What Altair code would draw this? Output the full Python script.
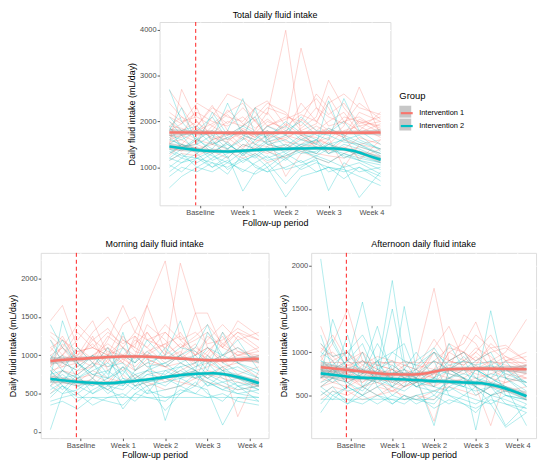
import altair as alt
import pandas as pd

# ---------------- data ----------------
DAYS = [1, 3, 5.5, 8, 10.5, 13, 15, 17, 20, 22.5, 25, 27, 29.5, 32, 35.5]
SMOOTH_DAYS = [1, 4, 7, 10, 13, 16, 19, 22, 25, 28, 31, 34, 35.5]
GROUPS = ["Intervention 1", "Intervention 2"]
COLORS = ["#F8766D", "#00BFC4"]
BAND_KEYS = ["Intervention 1 ", "Intervention 2 "]
X_TICKS = [6, 13, 20, 27, 34]
X_LABELS = ["Baseline", "Week 1", "Week 2", "Week 3", "Week 4"]
X_MINOR = [2.5, 9.5, 16.5, 23.5, 30.5]
X_DOMAIN = [-0.6, 37.1]
BASELINE_DAY = [5.3]

TOTAL_I1 = [
    [2680, 2300, 1800, 1950, 2200, 2400, 2000, 1700, 1600, 1850, 2100, 2900, 2300, 1900, 2000],
    [1500, 2700, 2000, 1600, 1700, 1900, 2300, 2150, 3990, 1700, 1500, 1800, 1650, 2000, 1750],
    [1700, 1650, 1900, 2350, 1800, 1600, 1750, 2000, 1850, 3600, 2300, 1900, 2000, 2100, 1800],
    [1400, 1500, 1300, 1600, 1750, 1450, 1550, 1700, 800, 1300, 1600, 1500, 1400, 1650, 1500],
    [2000, 1800, 1600, 2100, 2600, 2450, 2200, 1900, 2100, 2000, 2600, 2300, 1700, 2200, 2000],
    [1600, 1700, 2300, 1500, 1400, 1700, 1600, 1550, 1650, 1800, 1400, 1600, 1900, 2750, 1700],
    [1900, 1850, 1700, 1750, 2000, 1900, 2100, 2400, 2200, 1800, 1950, 2550, 2000, 1800, 2200],
    [1300, 1450, 1500, 1350, 1200, 1500, 1400, 1300, 1500, 1350, 1200, 1100, 1300, 1450, 1300],
    [2200, 2000, 2100, 1900, 1700, 1800, 1650, 1900, 2050, 2200, 2500, 2150, 2400, 1950, 2100],
    [1550, 1600, 1400, 1500, 1800, 1650, 1500, 1450, 1700, 1600, 1550, 1650, 1000, 1500, 1600],
    [1800, 1950, 2200, 2000, 1900, 2100, 1850, 2050, 1800, 1700, 1900, 1750, 2100, 2000, 1900],
    [1150, 1300, 1250, 1400, 1350, 1200, 1300, 1100, 1250, 1400, 1300, 1250, 1200, 1350, 1250],
    [2400, 2100, 1900, 2300, 2100, 2000, 2300, 2450, 1900, 2150, 2000, 2400, 2600, 2300, 2150],
    [1700, 1500, 1850, 1650, 1550, 1850, 1700, 1800, 1550, 1500, 1750, 1850, 1700, 1150, 1600],
    [1900, 2100, 1750, 1800, 2250, 1950, 1800, 2200, 1700, 2050, 1800, 2000, 2200, 1750, 1950],
    [1650, 1800, 2000, 1700, 1600, 1750, 2050, 1600, 1950, 1700, 1650, 1500, 1800, 1900, 1650],
    [2100, 1950, 2400, 2200, 1950, 2300, 2000, 2300, 2150, 1900, 2300, 2100, 1950, 2400, 2050],
    [1450, 1350, 1600, 1500, 1650, 1400, 1750, 1500, 1400, 1650, 1450, 1350, 1600, 1500, 1400],
    [1850, 1700, 1550, 1900, 2150, 1800, 1650, 1900, 1750, 2400, 2000, 1800, 1650, 2050, 1850],
    [1250, 1500, 1400, 1300, 1550, 1250, 1450, 1350, 1200, 1450, 1550, 1300, 1450, 1200, 1400],
]
TOTAL_I2 = [
    [2700, 2000, 1600, 1400, 1800, 2500, 1700, 1500, 1600, 1400, 1300, 1500, 1600, 1450, 1300],
    [550, 800, 1000, 900, 1100, 950, 850, 1000, 350, 800, 900, 1000, 950, 800, 600],
    [1800, 2300, 1500, 2200, 1700, 1900, 2100, 1600, 1800, 2000, 1700, 1600, 2500, 1800, 1500],
    [1200, 1100, 1300, 1000, 1250, 480, 900, 1100, 640, 1000, 1200, 490, 1100, 900, 1000],
    [1600, 1500, 1350, 1550, 1400, 1600, 2300, 1500, 1400, 1600, 1500, 1400, 1300, 1200, 1100],
    [1000, 1200, 1100, 1300, 950, 1150, 1250, 1000, 1300, 1100, 1250, 1150, 1000, 340, 900],
    [2100, 1800, 1900, 1600, 2400, 1700, 1600, 1900, 1700, 2100, 1800, 1750, 2000, 1600, 1400],
    [1400, 1250, 1200, 1350, 1500, 1300, 1400, 1200, 1350, 1500, 1450, 1300, 1400, 1250, 1100],
    [800, 1000, 900, 1100, 1000, 1200, 1050, 900, 1000, 1150, 900, 1000, 900, 1000, 800],
    [1700, 1600, 1800, 1500, 1650, 1800, 1500, 1700, 1900, 1600, 1750, 1700, 1550, 1500, 1300],
    [1300, 1500, 1400, 1250, 1100, 1350, 1200, 1400, 1500, 1300, 1350, 1500, 1400, 1300, 1200],
    [1900, 1400, 1600, 1800, 1500, 1300, 1600, 1800, 1450, 1700, 1500, 2450, 1600, 1700, 1350],
    [1150, 1300, 1000, 1200, 1400, 1100, 1300, 1150, 1250, 1400, 1200, 1100, 1300, 1150, 950],
    [1500, 1700, 1300, 1600, 1200, 1500, 1400, 1600, 1300, 1500, 1600, 1300, 1500, 1400, 1200],
    [1200, 1400, 1650, 1300, 1550, 1250, 1500, 1350, 1150, 1450, 1300, 1550, 1200, 1350, 1150],
    [1650, 1450, 1500, 1700, 1400, 1650, 1350, 1550, 1700, 1450, 1600, 1400, 1650, 1500, 1250],
    [900, 1100, 1200, 1000, 1150, 900, 1100, 1250, 950, 1050, 1150, 900, 1000, 1100, 850],
    [2000, 1700, 1800, 2100, 1600, 1900, 1750, 1650, 2000, 1750, 1600, 1850, 1700, 1550, 1400],
    [1350, 1200, 1450, 1150, 1300, 1400, 1250, 1450, 1200, 1350, 1250, 1400, 1250, 1150, 1050],
    [1050, 900, 1200, 1100, 850, 1300, 1000, 900, 1200, 950, 1100, 1000, 750, 1000, 700],
]
MORNING_I1 = [
    [1450, 1650, 1100, 900, 1200, 1650, 1300, 1650, 2230, 1200, 1000, 1100, 900, 1000, 950],
    [900, 1000, 1200, 1450, 1000, 1100, 950, 1300, 1000, 2200, 1550, 1550, 1100, 1300, 1100],
    [800, 850, 900, 700, 950, 800, 1000, 850, 700, 800, 900, 1000, 850, 200, 800],
    [1100, 1200, 1000, 1300, 1500, 1200, 1100, 1000, 1300, 1100, 1200, 1300, 1100, 1450, 1250],
    [700, 800, 750, 900, 850, 1000, 800, 900, 850, 750, 800, 700, 850, 900, 700],
    [1200, 1000, 1300, 1100, 1000, 1400, 1500, 1200, 1100, 1300, 1000, 1200, 1400, 1200, 1300],
    [950, 1100, 850, 1000, 1100, 950, 1200, 1100, 900, 1000, 1150, 900, 1000, 1100, 950],
    [600, 700, 650, 800, 700, 650, 750, 600, 700, 650, 600, 750, 700, 650, 600],
    [1000, 900, 1100, 950, 1250, 1100, 1000, 1400, 1200, 950, 1100, 1000, 1300, 1050, 1000],
    [850, 1000, 900, 1250, 800, 950, 850, 1000, 950, 1050, 850, 900, 800, 950, 900],
    [1300, 1200, 1050, 1100, 1300, 1150, 1250, 1100, 1400, 1200, 1300, 1150, 1200, 1350, 1200],
    [500, 650, 600, 700, 550, 750, 600, 650, 550, 600, 700, 650, 600, 550, 600],
    [1000, 1100, 950, 1200, 1050, 1000, 1150, 1300, 1000, 1150, 1000, 1250, 1100, 1000, 1050],
    [750, 900, 800, 850, 1000, 900, 800, 950, 850, 900, 800, 850, 950, 750, 850],
    [1100, 950, 1000, 1150, 900, 1250, 1050, 1000, 1150, 1250, 1050, 950, 1150, 1000, 1100],
    [850, 1150, 950, 850, 1100, 900, 1250, 950, 850, 1000, 1550, 1100, 900, 1050, 950],
    [1250, 1100, 1400, 1200, 1350, 1100, 1300, 1200, 1300, 1100, 1250, 1400, 1150, 1300, 1200],
    [650, 800, 700, 750, 650, 850, 700, 800, 650, 750, 700, 800, 750, 700, 650],
    [950, 850, 1050, 1100, 1000, 1200, 1100, 1650, 1050, 950, 1000, 1100, 950, 1250, 1050],
    [1050, 1250, 900, 1000, 1150, 1000, 900, 1050, 1150, 1000, 900, 1050, 1250, 900, 1000],
]
MORNING_I2 = [
    [30, 500, 700, 600, 800, 650, 700, 500, 800, 700, 600, 900, 700, 600, 500],
    [700, 1450, 900, 700, 1000, 600, 800, 1000, 150, 700, 800, 600, 750, 700, 650],
    [800, 600, 450, 450, 450, 450, 450, 450, 450, 450, 450, 450, 450, 450, 450],
    [1000, 800, 1100, 900, 700, 1300, 800, 900, 1000, 1450, 900, 1100, 1000, 1200, 800],
    [500, 600, 400, 550, 650, 300, 500, 600, 280, 500, 650, 500, 400, 600, 400],
    [900, 1000, 700, 800, 900, 750, 1000, 850, 900, 1000, 1100, 1400, 900, 800, 700],
    [600, 500, 550, 700, 500, 650, 550, 700, 600, 750, 800, 700, 600, 500, 550],
    [1200, 900, 800, 1000, 850, 900, 700, 800, 1100, 900, 1000, 800, 1300, 900, 800],
    [400, 450, 500, 350, 450, 500, 400, 550, 450, 500, 600, 550, 90, 450, 400],
    [750, 800, 650, 600, 700, 800, 650, 750, 800, 850, 700, 1000, 800, 750, 650],
    [1400, 1100, 900, 750, 800, 1000, 900, 1200, 950, 1100, 1050, 900, 1000, 1100, 900],
    [550, 650, 600, 500, 600, 550, 700, 600, 650, 700, 750, 600, 650, 700, 550],
    [850, 700, 750, 900, 600, 850, 750, 800, 900, 750, 850, 950, 800, 850, 700],
    [650, 750, 600, 650, 550, 700, 600, 650, 700, 800, 700, 750, 650, 550, 600],
    [800, 650, 900, 750, 700, 850, 600, 750, 700, 850, 900, 750, 850, 700, 600],
    [450, 600, 500, 650, 550, 450, 600, 500, 550, 600, 500, 650, 550, 500, 450],
    [950, 1200, 850, 1000, 750, 1100, 900, 1050, 850, 1000, 800, 1300, 1000, 900, 750],
    [700, 550, 750, 500, 650, 600, 750, 650, 700, 600, 750, 650, 550, 650, 550],
    [600, 800, 700, 850, 1100, 700, 650, 800, 750, 900, 800, 700, 800, 600, 650],
    [350, 400, 300, 450, 400, 350, 500, 450, 400, 550, 500, 450, 500, 400, 350],
]
AFTERNOON_I1 = [
    [900, 1100, 1500, 900, 800, 700, 850, 900, 1740, 900, 1000, 800, 900, 850, 800],
    [880, 880, 880, 880, 880, 880, 880, 880, 880, 880, 880, 880, 880, 880, 880],
    [700, 800, 750, 600, 700, 650, 600, 700, 1050, 1300, 900, 1000, 1200, 900, 1000],
    [1000, 1200, 900, 1000, 850, 900, 800, 750, 700, 1000, 1100, 1350, 900, 1000, 1380],
    [600, 700, 650, 500, 600, 550, 650, 700, 600, 800, 700, 600, 150, 700, 650],
    [800, 900, 700, 850, 750, 800, 700, 650, 800, 1100, 1000, 900, 1050, 1080, 900],
    [500, 600, 550, 450, 500, 600, 450, 500, 450, 650, 700, 600, 500, 550, 600],
    [1100, 900, 1000, 800, 900, 850, 750, 800, 900, 800, 1200, 1100, 800, 700, 850],
    [700, 650, 600, 700, 650, 600, 700, 650, 1000, 750, 700, 800, 650, 750, 700],
    [950, 1000, 850, 900, 800, 750, 850, 800, 700, 1000, 900, 850, 1100, 950, 850],
    [650, 750, 700, 650, 800, 700, 650, 750, 600, 700, 800, 750, 700, 650, 750],
    [850, 800, 900, 750, 850, 800, 750, 700, 200, 800, 900, 1050, 950, 800, 850],
    [1300, 950, 800, 1000, 700, 800, 900, 850, 800, 900, 850, 950, 800, 900, 800],
    [750, 700, 800, 650, 750, 700, 600, 650, 750, 850, 800, 700, 750, 800, 700],
    [800, 850, 750, 900, 850, 800, 700, 750, 1000, 900, 850, 1000, 850, 950, 800],
    [950, 750, 850, 800, 700, 750, 800, 700, 900, 1050, 1000, 1200, 1050, 900, 950],
    [600, 650, 700, 600, 650, 550, 600, 650, 750, 700, 650, 700, 600, 650, 700],
    [1050, 950, 1000, 850, 950, 900, 850, 800, 1150, 900, 1000, 900, 1000, 1050, 900],
    [700, 800, 650, 750, 700, 650, 700, 600, 650, 800, 750, 850, 700, 800, 750],
    [450, 550, 500, 600, 500, 550, 500, 450, 550, 600, 550, 500, 600, 550, 500],
]
AFTERNOON_I2 = [
    [2080, 1100, 800, 700, 900, 600, 800, 700, 500, 700, 600, 800, 700, 600, 500],
    [700, 1380, 900, 1580, 800, 1830, 900, 700, 150, 800, 700, 600, 500, 150, 400],
    [455, 455, 455, 455, 455, 455, 455, 455, 450, 600, 700, 500, 600, 400, 350],
    [900, 800, 700, 1000, 600, 700, 1530, 800, 600, 1100, 800, 600, 1480, 700, 500],
    [600, 500, 600, 500, 700, 500, 600, 700, 900, 500, 400, 300, 500, 600, 150],
    [800, 700, 1200, 600, 800, 900, 700, 600, 700, 800, 700, 100, 900, 500, 450],
    [1000, 900, 600, 800, 1300, 700, 600, 900, 1050, 800, 900, 700, 600, 800, 600],
    [500, 600, 400, 500, 600, 400, 500, 450, 400, 600, 500, 450, 400, 130, 300],
    [750, 650, 800, 700, 650, 750, 800, 600, 700, 650, 600, 800, 700, 600, 500],
    [1200, 800, 900, 1100, 700, 1500, 800, 1000, 700, 900, 1000, 800, 700, 900, 600],
    [650, 700, 550, 600, 700, 600, 550, 650, 600, 550, 650, 600, 500, 550, 450],
    [300, 500, 400, 600, 500, 400, 500, 400, 500, 400, 500, 600, 400, 500, 400],
    [900, 850, 1000, 750, 1100, 800, 700, 800, 1000, 700, 800, 900, 1000, 700, 650],
    [550, 450, 600, 500, 400, 500, 450, 500, 550, 500, 450, 400, 500, 450, 350],
    [850, 750, 900, 800, 700, 850, 750, 650, 800, 750, 700, 650, 750, 700, 550],
    [600, 700, 650, 550, 750, 600, 700, 600, 550, 650, 600, 550, 600, 500, 450],
    [1100, 950, 1000, 1200, 900, 1000, 900, 850, 1000, 850, 900, 850, 900, 800, 650],
    [400, 550, 450, 400, 500, 450, 400, 500, 350, 450, 400, 350, 450, 400, 300],
    [700, 800, 650, 750, 900, 650, 750, 700, 650, 700, 750, 700, 650, 600, 500],
    [950, 1150, 800, 900, 750, 1000, 1100, 750, 900, 800, 950, 800, 850, 750, 650],
]

# smoothed (loess) curves and half-widths of their grey bands
TOTAL_SMOOTH_I1 = [1760, 1758, 1755, 1752, 1750, 1750, 1752, 1755, 1755, 1755, 1755, 1757, 1758]
TOTAL_SMOOTH_I2 = [1455, 1400, 1360, 1345, 1360, 1385, 1400, 1410, 1415, 1410, 1360, 1230, 1165]
TOTAL_BAND_I1 = [80, 55, 45, 40, 38, 38, 38, 38, 38, 40, 45, 55, 75]
TOTAL_BAND_I2 = [80, 55, 45, 40, 38, 38, 38, 38, 38, 40, 45, 55, 75]
MORNING_SMOOTH_I1 = [925, 945, 960, 975, 985, 985, 975, 960, 945, 935, 940, 950, 955]
MORNING_SMOOTH_I2 = [690, 665, 645, 635, 650, 675, 705, 735, 760, 765, 735, 675, 635]
MORNING_BAND_I1 = [50, 35, 28, 25, 23, 23, 23, 23, 23, 25, 28, 35, 50]
MORNING_BAND_I2 = [50, 35, 28, 25, 23, 23, 23, 23, 23, 25, 28, 35, 50]
AFTERNOON_SMOOTH_I1 = [825, 805, 785, 760, 745, 742, 760, 800, 808, 810, 808, 804, 802]
AFTERNOON_SMOOTH_I2 = [755, 730, 708, 698, 690, 680, 668, 660, 650, 640, 600, 530, 490]
AFTERNOON_BAND_I1 = [55, 38, 30, 27, 25, 25, 25, 25, 25, 27, 30, 38, 55]
AFTERNOON_BAND_I2 = [55, 38, 30, 27, 25, 25, 25, 25, 25, 27, 30, 38, 55]

PANELS = {
    "total": dict(title="Total daily fluid intake", domain=[170, 4170],
                  major=[1000, 2000, 3000, 4000], minor=[500, 1500, 2500, 3500],
                  lines=[TOTAL_I1, TOTAL_I2], smooth=[TOTAL_SMOOTH_I1, TOTAL_SMOOTH_I2],
                  band=[TOTAL_BAND_I1, TOTAL_BAND_I2]),
    "morning": dict(title="Morning daily fluid intake", domain=[-80, 2335],
                    major=[0, 500, 1000, 1500, 2000], minor=[250, 750, 1250, 1750, 2250],
                    lines=[MORNING_I1, MORNING_I2], smooth=[MORNING_SMOOTH_I1, MORNING_SMOOTH_I2],
                    band=[MORNING_BAND_I1, MORNING_BAND_I2]),
    "afternoon": dict(title="Afternoon daily fluid intake", domain=[5, 2150],
                      major=[500, 1000, 1500, 2000], minor=[250, 750, 1250, 1750],
                      lines=[AFTERNOON_I1, AFTERNOON_I2],
                      smooth=[AFTERNOON_SMOOTH_I1, AFTERNOON_SMOOTH_I2],
                      band=[AFTERNOON_BAND_I1, AFTERNOON_BAND_I2]),
}

FONT = "Liberation Sans"
LABEL_SIZE = 7.5
TITLE_SIZE = 9


def x_axis():
    test = "indexof(%s, datum.value) >= 0" % str(X_TICKS)
    expr = "".join("datum.value == %s ? '%s' : " % (v, l) for v, l in zip(X_TICKS, X_LABELS)) + "''"
    return alt.Axis(values=sorted(X_TICKS + X_MINOR), labelExpr=expr, title="Follow-up period",
                    grid=True, gridColor="white",
                    gridWidth={"condition": {"test": test, "value": 1.1}, "value": 0.55},
                    tickOpacity={"condition": {"test": test, "value": 1}, "value": 0},
                    tickColor="#333333", tickSize=2.5, tickWidth=0.8, labelPadding=1,
                    labelFlush=False, labelOverlap=False, domain=False,
                    labelColor="#4D4D4D", labelFontSize=LABEL_SIZE, labelFont=FONT,
                    titleFont=FONT, titleFontSize=TITLE_SIZE, titleFontWeight="normal",
                    titleColor="black", titlePadding=2)


def y_axis(p):
    test = "indexof(%s, datum.value) >= 0" % str(p["major"])
    return alt.Axis(values=sorted(p["major"] + p["minor"]), format="d",
                    labelExpr="%s ? datum.label : ''" % test,
                    title="Daily fluid intake (mL/day)",
                    grid=True, gridColor="white",
                    gridWidth={"condition": {"test": test, "value": 1.1}, "value": 0.55},
                    tickOpacity={"condition": {"test": test, "value": 1}, "value": 0},
                    tickColor="#333333", tickSize=2.5, tickWidth=0.8, labelPadding=1,
                    labelFlush=False, labelOverlap=False, domain=False,
                    labelColor="#4D4D4D", labelFontSize=LABEL_SIZE, labelFont=FONT,
                    titleFont=FONT, titleFontSize=TITLE_SIZE, titleFontWeight="normal",
                    titleColor="black", titlePadding=3)


def panel(key, width, height, with_legend, title_offset):
    p = PANELS[key]
    rows = []
    for g, group_lines in zip(GROUPS, p["lines"]):
        for i, vals in enumerate(group_lines):
            assert len(vals) == len(DAYS)
            for d, v in zip(DAYS, vals):
                rows.append({"group": g, "pid": f"{g}-{i}", "day": d, "value": v})
    lines_df = pd.DataFrame(rows)

    srows = []
    for g, bk, sm, bd in zip(GROUPS, BAND_KEYS, p["smooth"], p["band"]):
        for d, v, h in zip(SMOOTH_DAYS, sm, bd):
            srows.append({"group": g, "bandkey": bk, "day": d, "value": v,
                          "lo": v - h, "hi": v + h})
    smooth_df = pd.DataFrame(srows)

    xs = alt.Scale(domain=X_DOMAIN, nice=False, zero=False)
    ys = alt.Scale(domain=p["domain"], nice=False, zero=False)
    x_enc = alt.X("day:Q", scale=xs, axis=x_axis())
    y_enc = alt.Y("value:Q", scale=ys, axis=y_axis(p))

    if with_legend:
        color_legend = alt.Legend(orient="none", legendX=362, legendY=70, title="Group",
                                  titleFont=FONT, titleFontSize=9.5, titleFontWeight="normal",
                                  titleColor="black", titlePadding=5,
                                  labelFont=FONT, labelFontSize=LABEL_SIZE, labelColor="black",
                                  labelOffset=5, symbolType="stroke", symbolSize=144,
                                  symbolStrokeWidth=2.2, symbolOpacity=1, rowPadding=1,
                                  padding=0, zindex=2)
        band_legend = alt.Legend(orient="none", legendX=362, legendY=70, title=" ",
                                 titleFont=FONT, titleFontSize=9.5, titleFontWeight="normal",
                                 titlePadding=5, labelExpr="''",
                                 labelFont=FONT, labelFontSize=LABEL_SIZE,
                                 labelOffset=5, symbolType="square", symbolSize=144,
                                 symbolOpacity=0.55, symbolStrokeWidth=0, rowPadding=1,
                                 padding=0, zindex=1)
        color = alt.Color("group:N", scale=alt.Scale(domain=GROUPS, range=COLORS),
                          legend=color_legend)
        fill = alt.Fill("bandkey:N", scale=alt.Scale(domain=BAND_KEYS, range=["#999999", "#999999"]),
                        legend=band_legend)
    else:
        color = alt.Color("group:N", scale=alt.Scale(domain=GROUPS, range=COLORS), legend=None)
        fill = alt.Fill("bandkey:N", scale=alt.Scale(domain=BAND_KEYS, range=["#999999", "#999999"]),
                        legend=None)

    lines = alt.Chart(lines_df).mark_line(strokeWidth=0.8, opacity=0.38).encode(
        x=x_enc, y=y_enc, color=color, detail="pid:N")
    vline = alt.Chart(pd.DataFrame({"day": BASELINE_DAY})).mark_rule(
        color="#FF2020", strokeDash=[4, 3], strokeWidth=1).encode(x=x_enc)
    band = alt.Chart(smooth_df).mark_area(opacity=0.4, interpolate="monotone").encode(
        x=x_enc, y=alt.Y("lo:Q", scale=ys, axis=y_axis(p)), y2="hi:Q", fill=fill)
    smooth = alt.Chart(smooth_df).mark_line(strokeWidth=2.6, interpolate="monotone").encode(
        x=x_enc, y=y_enc, color=color, detail="group:N")

    return alt.layer(lines, vline, band, smooth).properties(
        width=width, height=height,
        title=alt.TitleParams(p["title"], font=FONT, fontSize=TITLE_SIZE, fontWeight="normal",
                              color="black", anchor="middle", frame="group", offset=title_offset))


top = panel("total", 233, 185, True, 2)
morning = panel("morning", 230, 187, False, 3)
afternoon = panel("afternoon", 227, 187, False, 3)

spacer = alt.Chart(pd.DataFrame({"a": [0]})).mark_point(opacity=0).encode(
    x=alt.value(0), y=alt.value(0)).properties(
    width=120, height=185, view=alt.ViewBackground(fill="transparent", stroke="transparent"))

top_row = alt.hconcat(spacer, top, spacing=0, bounds="flush")
bottom_row = alt.hconcat(morning, afternoon, spacing=43, bounds="flush")

chart = alt.vconcat(top_row, bottom_row, spacing=12).properties(
    padding={"left": 0, "top": 0, "right": 5, "bottom": 5}
).configure_view(fill="#EBEBEB", stroke="transparent").configure(font=FONT)

chart.save("out.html", embed_options={"renderer": "svg", "actions": False})
